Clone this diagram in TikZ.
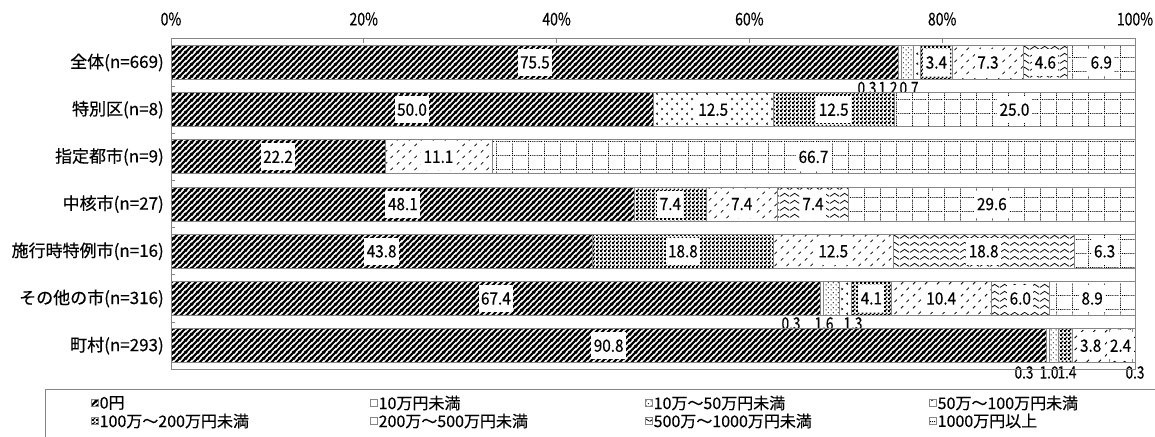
\documentclass[tikz,border=0pt]{standalone}
\usepackage{fontspec}
\setmainfont{Noto Sans CJK JP}[FakeBold=0.35]
\newfontfamily\numf{Noto Sans CJK JP}[FakeStretch=0.9, FakeBold=0.35]
\newfontfamily\numn{Noto Sans CJK JP}[FakeStretch=0.8, FakeBold=0.35]
\usetikzlibrary{patterns}

% 0 yen: wide upward diagonal
\pgfdeclarepatternformonly{hatchA}{\pgfqpoint{0pt}{0pt}}{\pgfqpoint{6pt}{6pt}}{\pgfqpoint{6pt}{6pt}}{%
  \pgfsetlinewidth{2.4pt}%
  \pgfpathmoveto{\pgfqpoint{-1pt}{-1pt}}\pgfpathlineto{\pgfqpoint{7pt}{7pt}}%
  \pgfpathmoveto{\pgfqpoint{-1pt}{5pt}}\pgfpathlineto{\pgfqpoint{1pt}{7pt}}%
  \pgfpathmoveto{\pgfqpoint{5pt}{-1pt}}\pgfpathlineto{\pgfqpoint{7pt}{1pt}}%
  \pgfusepath{stroke}}
% 10-50: dense dots
\pgfdeclarepatternformonly{dotsC}{\pgfqpoint{0pt}{0pt}}{\pgfqpoint{5pt}{5pt}}{\pgfqpoint{5pt}{5pt}}{%
  \pgfpathcircle{\pgfqpoint{1.25pt}{1.25pt}}{0.7pt}%
  \pgfpathcircle{\pgfqpoint{3.75pt}{3.75pt}}{0.7pt}%
  \pgfusepath{fill}}
% 50-100: divots
\pgfdeclarepatternformonly{divotD}{\pgfqpoint{0pt}{0pt}}{\pgfqpoint{10pt}{10pt}}{\pgfqpoint{10pt}{10pt}}{%
  \pgfsetlinewidth{0.8pt}%
  \pgfpathmoveto{\pgfqpoint{1.5pt}{6.5pt}}\pgfpathlineto{\pgfqpoint{3pt}{7.5pt}}\pgfpathlineto{\pgfqpoint{1.5pt}{8.5pt}}%
  \pgfpathmoveto{\pgfqpoint{8.5pt}{1.5pt}}\pgfpathlineto{\pgfqpoint{7pt}{2.5pt}}\pgfpathlineto{\pgfqpoint{8.5pt}{3.5pt}}%
  \pgfusepath{stroke}}
% 100-200: small checker
\pgfdeclarepatternformonly{checkE}{\pgfqpoint{0pt}{0pt}}{\pgfqpoint{4pt}{4pt}}{\pgfqpoint{4pt}{4pt}}{%
  \pgfpathrectangle{\pgfqpoint{0pt}{0pt}}{\pgfqpoint{2.3pt}{2.3pt}}%
  \pgfpathrectangle{\pgfqpoint{2pt}{2pt}}{\pgfqpoint{2pt}{2pt}}%
  \pgfusepath{fill}}
% 200-500: sparse slashes
\pgfdeclarepatternformonly{slashF}{\pgfqpoint{0pt}{0pt}}{\pgfqpoint{12pt}{12pt}}{\pgfqpoint{12pt}{12pt}}{%
  \pgfsetlinewidth{0.9pt}%
  \pgfpathmoveto{\pgfqpoint{1pt}{8pt}}\pgfpathlineto{\pgfqpoint{3.5pt}{10.5pt}}%
  \pgfpathmoveto{\pgfqpoint{7pt}{2pt}}\pgfpathlineto{\pgfqpoint{9.5pt}{4.5pt}}%
  \pgfusepath{stroke}}
% 500-1000: wave
\pgfdeclarepatternformonly{waveG}{\pgfqpoint{0pt}{0pt}}{\pgfqpoint{10pt}{7pt}}{\pgfqpoint{10pt}{7pt}}{%
  \pgfsetlinewidth{0.85pt}%
  \pgfpathmoveto{\pgfqpoint{0pt}{1.8pt}}%
  \pgfpathcurveto{\pgfqpoint{2.5pt}{1.8pt}}{\pgfqpoint{2.5pt}{5.2pt}}{\pgfqpoint{5pt}{5.2pt}}%
  \pgfpathcurveto{\pgfqpoint{7.5pt}{5.2pt}}{\pgfqpoint{7.5pt}{1.8pt}}{\pgfqpoint{10pt}{1.8pt}}%
  \pgfusepath{stroke}}
% 1000+: dotted grid
\pgfdeclarepatternformonly{gridH}{\pgfqpoint{0pt}{0pt}}{\pgfqpoint{16pt}{14pt}}{\pgfqpoint{16pt}{14pt}}{%
  \foreach \q in {0,2,4,6,8,10,12}{\pgfpathrectangle{\pgfqpoint{0pt}{\q pt}}{\pgfqpoint{1pt}{1pt}}}%
  \foreach \q in {2,4,6,8,10,12,14}{\pgfpathrectangle{\pgfqpoint{\q pt}{0pt}}{\pgfqpoint{1pt}{1pt}}}%
  \pgfusepath{fill}}

\definecolor{axgray}{RGB}{134,134,134}

\newcommand\mySeg[4]{\path[fill=white] ({171+9.64*#2},{#1-17}) rectangle ({171+9.64*#3},{#1+17});
  \path[#4, segline] ({171+9.64*#2},{#1-17}) rectangle ({171+9.64*#3},{#1+17});}
\newcommand\myLbl[4]{\node[lab] (#1) at ({171+9.64*#3},#2) {#4};}

\begin{document}
\begin{tikzpicture}[x=1pt,y=-1pt,
  segline/.style={draw=axgray, line width=0.9pt},
  patA/.style={pattern=hatchA},
  patB/.style={fill=white},
  patC/.style={pattern=dotsC},
  patD/.style={pattern=divotD},
  patE/.style={pattern=checkE},
  patF/.style={pattern=slashF},
  patG/.style={pattern=waveG},
  patH/.style={pattern=gridH},
  axis/.style={draw=axgray, line width=1pt},
  lab/.style={fill=white, inner xsep=2.5pt, inner ysep=0pt, minimum height=27pt, font=\numf\fontsize{17}{17}\selectfont},
  olab/.style={inner sep=0pt, font=\numn\fontsize{17}{17}\selectfont},
  cat/.style={anchor=east, inner sep=0pt, font=\fontsize{17}{17}\selectfont},
  ticklab/.style={inner sep=0pt, font=\numn\fontsize{17.5}{17.5}\selectfont},
  leg/.style={anchor=west, inner sep=0pt, font=\fontsize{16}{16}\selectfont},
  legbox/.style={draw=axgray, line width=0.7pt}]
\useasboundingbox (0,0) rectangle (1155,436);
\fill[white] (0,0) rectangle (1155,436);

% tick labels
\foreach \k/\lt in {0/0\%,1/20\%,2/40\%,3/60\%,4/80\%,5/100\%}
  \node[ticklab] (t\k) at ({171+192.8*\k},19) {\lt};

% row 0 全体
\mySeg{62.5}{0}{75.5}{patA}
\mySeg{62.5}{75.5}{75.8}{patB}
\mySeg{62.5}{75.8}{77.0}{patC}
\mySeg{62.5}{77.0}{77.7}{patD}
\mySeg{62.5}{77.7}{81.1}{patE}
\mySeg{62.5}{81.1}{88.4}{patF}
\mySeg{62.5}{88.4}{93.0}{patG}
\mySeg{62.5}{93.0}{100}{patH}
\myLbl{a1}{62.5}{37.75}{75.5}
\myLbl{a5}{62.5}{79.4}{3.4}
\myLbl{a6}{62.5}{84.75}{7.3}
\myLbl{a7}{62.5}{90.7}{4.6}
\myLbl{a8}{62.5}{96.5}{6.9}
\node[olab] (a2) at (867,88) {0.3};
\node[olab] (a3) at (888,88) {1.2};
\node[olab] (a4) at (909,88) {0.7};

% row 1 特別区
\mySeg{109.7}{0}{50}{patA}
\mySeg{109.7}{50}{62.5}{patD}
\mySeg{109.7}{62.5}{75}{patE}
\mySeg{109.7}{75}{100}{patH}
\myLbl{b1}{109.7}{25}{50.0}
\myLbl{b2}{109.7}{56.25}{12.5}
\myLbl{b3}{109.7}{68.75}{12.5}
\myLbl{b4}{109.7}{87.5}{25.0}

% row 2 指定都市
\mySeg{156.9}{0}{22.2}{patA}
\mySeg{156.9}{22.2}{33.3}{patF}
\mySeg{156.9}{33.3}{100}{patH}
\myLbl{c1}{156.9}{11.1}{22.2}
\myLbl{c2}{156.9}{27.75}{11.1}
\myLbl{c3}{156.9}{66.65}{66.7}

% row 3 中核市
\mySeg{204.1}{0}{48.1}{patA}
\mySeg{204.1}{48.1}{55.5}{patE}
\mySeg{204.1}{55.5}{62.9}{patF}
\mySeg{204.1}{62.9}{70.3}{patG}
\mySeg{204.1}{70.3}{100}{patH}
\myLbl{d1}{204.1}{24.05}{48.1}
\myLbl{d2}{204.1}{51.8}{7.4}
\myLbl{d3}{204.1}{59.2}{7.4}
\myLbl{d4}{204.1}{66.6}{7.4}
\myLbl{d5}{204.1}{85.15}{29.6}

% row 4 施行時特例市
\mySeg{251.3}{0}{43.7}{patA}
\mySeg{251.3}{43.7}{62.5}{patE}
\mySeg{251.3}{62.5}{74.95}{patF}
\mySeg{251.3}{74.95}{93.7}{patG}
\mySeg{251.3}{93.7}{100}{patH}
\myLbl{e1}{251.3}{21.85}{43.8}
\myLbl{e2}{251.3}{53.1}{18.8}
\myLbl{e3}{251.3}{68.7}{12.5}
\myLbl{e4}{251.3}{84.3}{18.8}
\myLbl{e5}{251.3}{96.85}{6.3}

% row 5 その他の市
\mySeg{298.5}{0}{67.4}{patA}
\mySeg{298.5}{67.4}{67.7}{patB}
\mySeg{298.5}{67.7}{69.3}{patC}
\mySeg{298.5}{69.3}{70.6}{patD}
\mySeg{298.5}{70.6}{74.7}{patE}
\mySeg{298.5}{74.7}{85.1}{patF}
\mySeg{298.5}{85.1}{91.1}{patG}
\mySeg{298.5}{91.1}{100}{patH}
\myLbl{f1}{298.5}{33.7}{67.4}
\myLbl{f5}{298.5}{72.65}{4.1}
\myLbl{f6}{298.5}{79.9}{10.4}
\myLbl{f7}{298.5}{88.1}{6.0}
\myLbl{f8}{298.5}{95.55}{8.9}
\node[olab] (f2) at (791,323.5) {0.3};
\node[olab] (f3) at (824,323.5) {1.6};
\node[olab] (f4) at (853,323.5) {1.3};

% row 6 町村
\mySeg{345.7}{0}{90.8}{patA}
\mySeg{345.7}{90.8}{91.1}{patB}
\mySeg{345.7}{91.1}{92.1}{patC}
\mySeg{345.7}{92.1}{93.5}{patE}
\mySeg{345.7}{93.5}{97.3}{patF}
\mySeg{345.7}{97.3}{99.7}{patG}
\mySeg{345.7}{99.7}{100}{patH}
\myLbl{g1}{345.7}{45.4}{90.8}
\myLbl{g5}{345.7}{95.4}{3.8}
\myLbl{g6}{345.7}{98.5}{2.4}
\node[olab] (g2) at (1024,372.5) {0.3};
\node[olab] (g3) at (1049,372.5) {1.0};
\node[olab] (g4) at (1067,372.5) {1.4};
\node[olab] (g7) at (1135,372.5) {0.3};

% plot frame and ticks
\draw[axis] (171,38.9) rectangle (1135,369.3);
\foreach \k in {1,2,3,4} \draw[axis] ({171+192.8*\k},38.9) -- ++(0,4);
\foreach \k in {1,...,6} \draw[axis] (171,{38.9+47.2*\k}) -- ++(4,0);

% category labels
\node[cat] (n0) at (164,62.5) {全体(n=669)};
\node[cat] (n1) at (164,109.7) {特別区(n=8)};
\node[cat] (n2) at (164,156.9) {指定都市(n=9)};
\node[cat] (n3) at (164,204.1) {中核市(n=27)};
\node[cat] (n4) at (164,251.3) {施行時特例市(n=16)};
\node[cat] (n5) at (164,298.5) {その他の市(n=316)};
\node[cat] (n6) at (164,345.7) {町村(n=293)};

% legend
\draw[legbox] (45,389.5) rectangle (1170,450);
\foreach \c/\xx/\yy/\lt [count=\i] in {patA/91/403/0円, patB/370/403/10万円未満, patC/645/403/10万～50万円未満, patD/929/403/50万～100万円未満,
  patE/91/421/100万～200万円未満, patF/370/421/200万～500万円未満, patG/645/421/500万～1000万円未満, patH/929/421/1000万円以上}{
  \path[fill=white] (\xx,\yy-3.5) rectangle (\xx+7,\yy+3.5);
  \path[\c, draw=axgray, line width=0.6pt] (\xx,\yy-3.5) rectangle (\xx+7,\yy+3.5);
  \node[leg] (lg\i) at (\xx+8.5,\yy) {\lt};
}
\end{tikzpicture}
\end{document}
